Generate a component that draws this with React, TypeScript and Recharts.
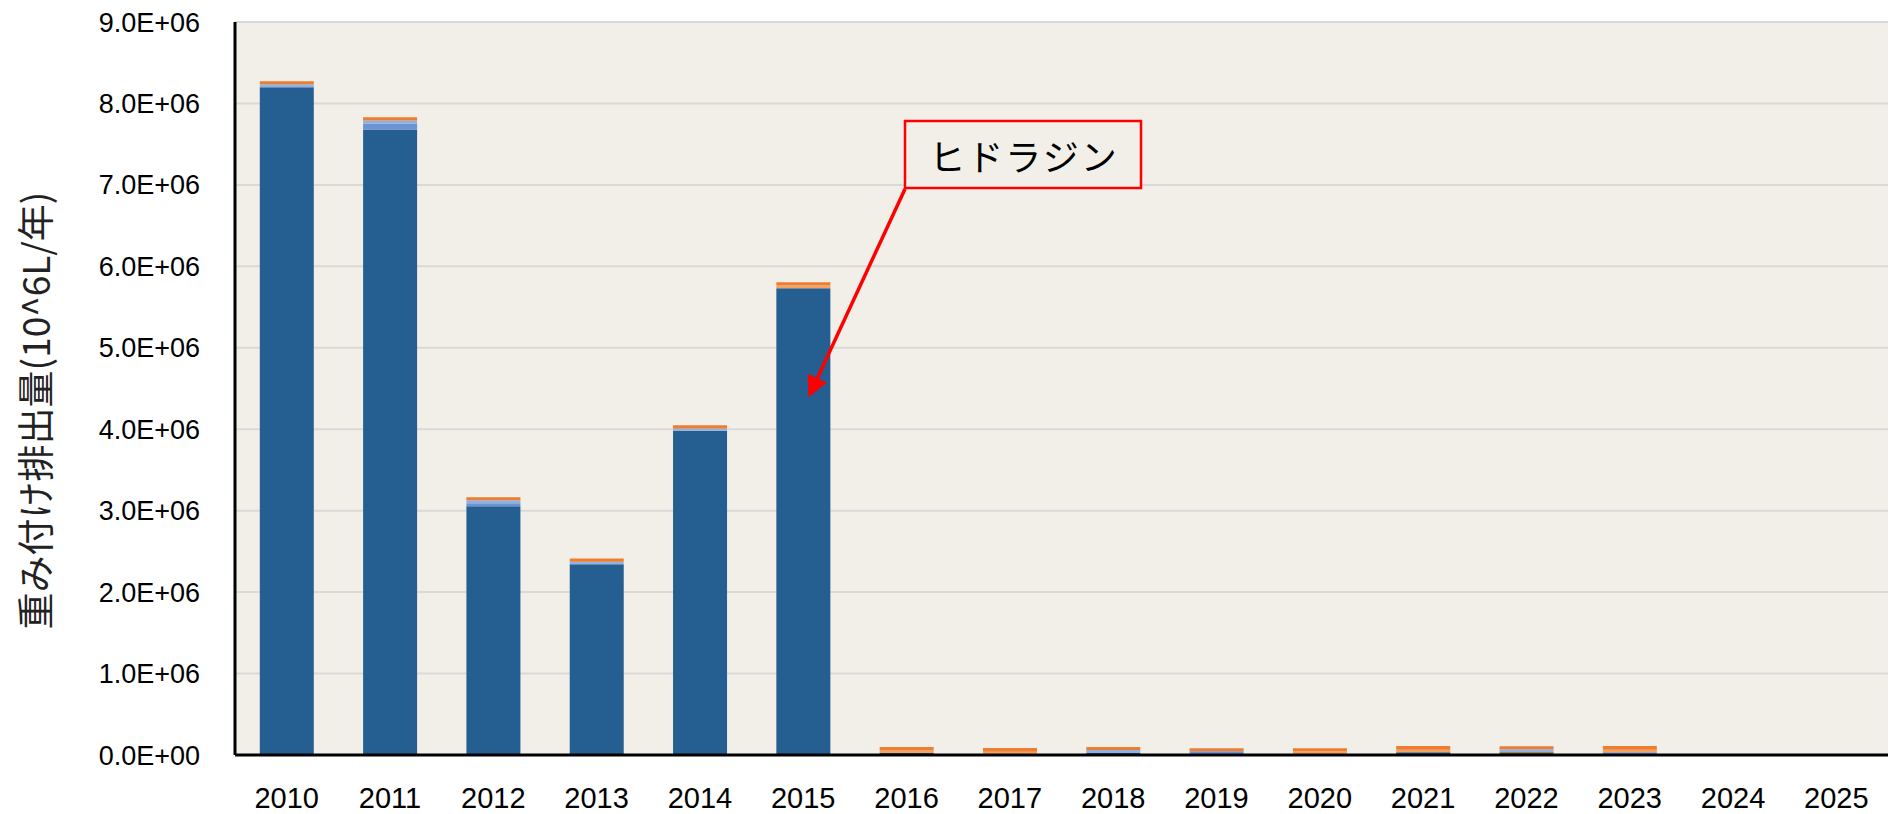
import React from 'react';
import { BarChart, Bar, XAxis, YAxis, CartesianGrid } from 'recharts';

if (typeof document !== 'undefined') {
  document.body.style.margin = '0';
}

const years = ['2010', '2011', '2012', '2013', '2014', '2015', '2016', '2017', '2018', '2019', '2020', '2021', '2022', '2023', '2024', '2025'];
const yTicks = [0, 1e6, 2e6, 3e6, 4e6, 5e6, 6e6, 7e6, 8e6, 9e6];

// stacked series, bottom to top
const hydrazine = [8.2e6, 7.68e6, 3.055e6, 2.343e6, 3.98e6, 5.73e6, 0.025e6, 0, 0.025e6, 0, 0, 0.035e6, 0, 0, 0, 0];
const oliveSeries = [0, 0, 0, 0, 0, 0, 0, 0, 0, 0, 0, 0, 0.035e6, 0, 0, 0];
const blueSeries = [0, 0.075e6, 0.037e6, 0, 0, 0, 0, 0, 0, 0.045e6, 0, 0, 0, 0.035e6, 0, 0];
const lightBlueSeries = [0.035e6, 0.037e6, 0.037e6, 0.03e6, 0.03e6, 0, 0, 0, 0.037e6, 0, 0, 0, 0.035e6, 0, 0, 0];
const lightOrangeSeries = [0, 0, 0, 0, 0, 0.037e6, 0.037e6, 0.04e6, 0, 0, 0.045e6, 0.03e6, 0, 0.03e6, 0, 0];
const orangeSeries = [0.037e6, 0.037e6, 0.037e6, 0.04e6, 0.04e6, 0.037e6, 0.037e6, 0.045e6, 0.037e6, 0.037e6, 0.037e6, 0.045e6, 0.037e6, 0.045e6, 0, 0];

const yTitle = '重み付け排出量(10^6L/年)';
const annotationText = 'ヒドラジン';

const data = years.map((y, i) => ({
  year: y,
  hydrazine: hydrazine[i],
  olive: oliveSeries[i],
  blue: blueSeries[i],
  lightBlue: lightBlueSeries[i],
  lightOrange: lightOrangeSeries[i],
  orange: orangeSeries[i],
}));

const fmt = (v: number) => {
  if (v === 0) return '0.0E+00';
  const e = Math.floor(Math.log10(v) + 1e-9);
  const m = v / Math.pow(10, e);
  return `${m.toFixed(1)}E+${String(e).padStart(2, '0')}`;
};

const W = 1892;
const H = 814;
const BG = '#F2EFE9';

const YTitle = (props: any) => {
  const vb = props.viewBox || { x: 0, y: 0, width: 0, height: 0 };
  const cx = vb.x + 34;
  const cy = vb.y + vb.height / 2 + 22;
  return (
    <text
      x={cx}
      y={cy}
      transform={`rotate(-90, ${cx}, ${cy})`}
      textAnchor="middle"
      dominantBaseline="central"
      fontFamily="'Noto Sans CJK JP', 'Noto Sans', sans-serif"
      fontSize={37}
      fill="#222"
    >
      {yTitle}
    </text>
  );
};

export default function App() {
  return (
    <div style={{ position: 'relative', width: W, height: H, background: '#fff' }}>
      <BarChart
        width={W}
        height={H}
        data={data}
        margin={{ top: 22, right: 4, bottom: 0, left: 0 }}
        barCategoryGap="24%"
      >
        <CartesianGrid vertical={false} stroke="#D9D9D9" strokeWidth={2} fill={BG} />
        <XAxis
          dataKey="year"
          height={59}
          tickLine={false}
          tickSize={0}
          tickMargin={32}
          axisLine={{ stroke: '#000', strokeWidth: 3 }}
          tick={{ fill: '#000', fontSize: 29, fontFamily: "'Liberation Sans', Arial, sans-serif" }}
          interval={0}
        />
        <XAxis xAxisId="top" orientation="top" dataKey="year" height={0} tick={false} tickLine={false} axisLine={{ stroke: '#000', strokeWidth: 2 }} />
        <YAxis
          width={235}
          domain={[0, 9e6]}
          ticks={yTicks}
          tickFormatter={fmt}
          tickLine={false}
          tickSize={0}
          tickMargin={35}
          axisLine={{ stroke: '#000', strokeWidth: 3 }}
          tick={{ fill: '#000', fontSize: 27, fontFamily: "'Liberation Sans', Arial, sans-serif" }}
          interval={0}
          label={{ content: YTitle }}
        />
        <YAxis yAxisId="right" orientation="right" width={0} domain={[0, 9e6]} tick={false} tickLine={false} axisLine={{ stroke: '#000', strokeWidth: 2 }} />
        <Bar dataKey="hydrazine" stackId="a" fill="#255E91" isAnimationActive={false} />
        <Bar dataKey="olive" stackId="a" fill="#6B5A0A" isAnimationActive={false} />
        <Bar dataKey="blue" stackId="a" fill="#6C93D3" isAnimationActive={false} />
        <Bar dataKey="lightBlue" stackId="a" fill="#8FB2E0" isAnimationActive={false} />
        <Bar dataKey="lightOrange" stackId="a" fill="#F4A261" isAnimationActive={false} />
        <Bar dataKey="orange" stackId="a" fill="#ED7D31" isAnimationActive={false} />
      </BarChart>
      <svg width={W} height={H} style={{ position: 'absolute', left: 0, top: 0, pointerEvents: 'none' }}>
        <defs>
          <marker id="arrowHead" markerWidth="6" markerHeight="6" refX="5" refY="3" orient="auto" markerUnits="strokeWidth">
            <path d="M0,0 L6,3 L0,6 Z" fill="#FF0000" />
          </marker>
        </defs>
        <line x1={905} y1={189} x2={810} y2={394} stroke="#FF0000" strokeWidth={3.5} markerEnd="url(#arrowHead)" />
        <rect x={905} y={121} width={236} height={67} fill={BG} stroke="#FF0000" strokeWidth={2.5} />
        <text
          x={1024}
          y={155}
          textAnchor="middle"
          dominantBaseline="central"
          fontFamily="'Noto Sans CJK JP', sans-serif"
          fontWeight={400}
          fontSize={36}
          letterSpacing={2}
          fill="#000"
        >
          {annotationText}
        </text>
      </svg>
    </div>
  );
}
